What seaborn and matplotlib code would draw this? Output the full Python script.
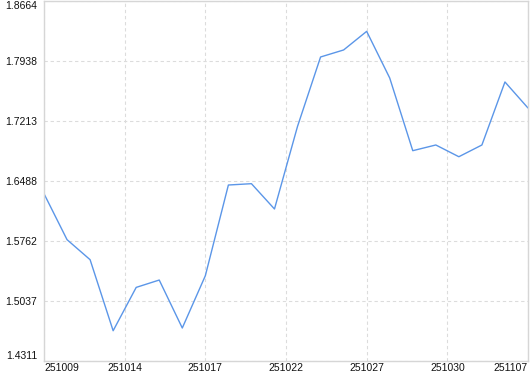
import matplotlib
matplotlib.use("Agg")
import matplotlib.pyplot as plt
import seaborn as sns
import pandas as pd
import numpy as np

values = [1.6334, 1.5778, 1.5536, 1.4677, 1.5201, 1.5290, 1.4710, 1.5342,
          1.6439, 1.6455, 1.6149, 1.7148, 1.7987, 1.8072, 1.8297, 1.7733,
          1.6854, 1.6923, 1.6781, 1.6923, 1.7685, 1.7370]
xtick_labels = ["251009", "251014", "251017", "251022", "251027", "251030", "251107"]
xtick_pos = [0, 3.5, 7, 10.5, 14, 17.5, 21]
ytick_values = [1.4311, 1.5037, 1.5762, 1.6488, 1.7213, 1.7938, 1.8664]

df = pd.DataFrame({"idx": np.arange(len(values)), "value": values})

sns.set_style("white")
plt.rcParams['font.family'] = ['Liberation Sans', 'DejaVu Sans']

fig = plt.figure(figsize=(5.30, 3.74), dpi=100)
ax = fig.add_axes([44/530, 13/374, 484/530, 360/374])

sns.lineplot(data=df, x="idx", y="value", ax=ax, color="#5b96e8", linewidth=1.0)

ax.set_xlim(0, 21)
ax.set_ylim(1.4311, 1.8664)
ax.set_xlabel("")
ax.set_ylabel("")

ax.set_yticks(ytick_values)
ax.set_yticklabels([f"{v:.4f}" for v in ytick_values])
ax.set_xticks(xtick_pos)
ax.set_xticklabels(xtick_labels)

ax.tick_params(axis="both", length=0, labelsize=7.5, colors="#111111", pad=5)
ax.tick_params(axis="x", pad=1.5)

xl = ax.get_xticklabels()
xl[0].set_ha("left")
xl[-1].set_ha("right")
yl = ax.get_yticklabels()
yl[0].set_va("bottom")
yl[-1].set_va("top")

ax.grid(True, color="#dcdcdc", linestyle=(0, (3, 2.5)), linewidth=0.8)
for s in ax.spines.values():
    s.set_color("#d6d6d6")
    s.set_linewidth(1.0)

fig.savefig("out.png", dpi=100)
